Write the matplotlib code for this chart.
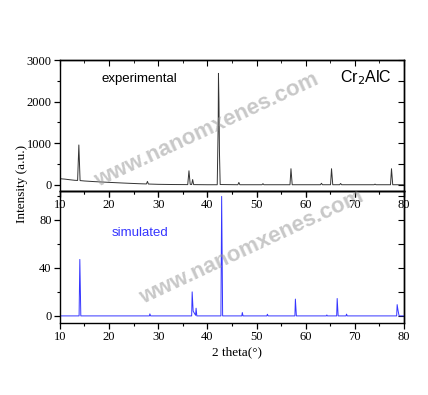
import matplotlib
matplotlib.use('Agg')
import matplotlib.pyplot as plt
from matplotlib.ticker import MultipleLocator

plt.rcParams['font.family'] = 'Liberation Serif'
plt.rcParams['axes.linewidth'] = 1.0

#################### DATA ##############################
# experimental pattern, vertices (2theta, counts)
exp_x = [10, 11, 12, 13, 13.6, 13.85, 14.1, 15, 17, 20, 23, 26, 27.6, 27.8, 28.0,
         30, 33, 36.0, 36.25, 36.5, 36.8, 37.0, 37.2, 40, 42.0, 42.2, 42.25, 42.35,
         42.45, 42.6, 46.2, 46.4, 46.6, 51.1, 51.3, 51.5, 56.8, 57.0, 57.25, 63.0,
         63.2, 63.4, 65.05, 65.25, 65.5, 66.9, 67.1, 67.3, 73.9, 74.1, 74.3, 77.25,
         77.45, 77.7, 80]
exp_y = [150, 140, 125, 112, 108, 960, 105, 95, 80, 62, 45, 30, 24, 85, 22,
         15, 10, 8, 340, 15, 10, 130, 8, 5, 5, 1500, 2680, 2000,
         800, 10, 5, 60, 5, 5, 30, 5, 5, 390, 5, 5,
         40, 5, 5, 390, 5, 5, 35, 5, 5, 20, 5, 5,
         390, 5, 5]

# simulated pattern
sim_x = [10, 13.9, 14.05, 14.25, 28.2, 28.3, 28.45, 36.8, 36.9, 37.1, 37.6, 37.7,
         37.85, 42.75, 42.9, 43.1, 47.0, 47.1, 47.25, 52.1, 52.2, 52.35, 57.8, 57.9,
         58.1, 64.2, 64.3, 64.4, 66.3, 66.4, 66.6, 68.2, 68.3, 68.45, 78.5, 78.6,
         78.8, 79.0, 80]
sim_y = [0, 0, 47, 0, 0, 1.7, 0, 0, 20, 4, 0.5, 6.4,
         0, 0, 99.5, 0, 0, 2.8, 0, 0, 1.4, 0, 0, 14,
         0, 0, 0.8, 0, 0, 14.5, 0, 0, 1.5, 0, 0, 9.4,
         4, 0, 0]

#################### PLOT ##############################
fig = plt.figure(figsize=(4.28, 3.95), dpi=100)
ax2 = fig.add_axes([0.140, 0.182, 0.804, 0.3345])
ax1 = fig.add_axes([0.140, 0.5165, 0.804, 0.3315])
ax2.patch.set_visible(False)
ax1.patch.set_visible(False)

ax1.plot(exp_x, exp_y, color='#333333', lw=0.7)
ax2.plot(sim_x, sim_y, color='#3535ff', lw=0.7)

ax1.set_ylim(-145, 3000)
ax2.set_ylim(-6, 104)
ax1.yaxis.set_major_locator(MultipleLocator(1000))
ax1.yaxis.set_minor_locator(MultipleLocator(500))
ax2.yaxis.set_major_locator(MultipleLocator(40))
ax2.yaxis.set_minor_locator(MultipleLocator(20))

for ax in (ax1, ax2):
    ax.set_xlim(10, 80)
    ax.xaxis.set_major_locator(MultipleLocator(10))
    ax.xaxis.set_minor_locator(MultipleLocator(5))
    ax.tick_params(which='major', direction='out', length=4, width=0.9, labelsize=9, pad=2)
    ax.tick_params(which='minor', direction='out', length=2.5, width=0.8)
    # inward ticks on top and right
    top = ax.secondary_xaxis('top')
    top.xaxis.set_major_locator(MultipleLocator(10))
    top.xaxis.set_minor_locator(MultipleLocator(5))
    top.tick_params(which='both', direction='in', labeltop=False)
    top.tick_params(which='major', length=4)
    top.tick_params(which='minor', length=2.5)
    right = ax.secondary_yaxis('right')
    right.yaxis.set_major_locator(ax.yaxis.get_minor_locator())
    right.tick_params(which='both', direction='in', labelright=False, length=4)

ax1.text(0.12, 0.83, 'experimental', transform=ax1.transAxes,
         family='Liberation Sans', fontsize=9.5)
ax1.text(0.815, 0.83, 'Cr$_2$AlC', transform=ax1.transAxes,
         family='Liberation Sans', fontsize=11.5)
ax2.text(0.15, 0.66, 'simulated', transform=ax2.transAxes,
         family='Liberation Sans', fontsize=9.5, color='#3535ff')

fig.text(0.051, 0.534, 'Intensity (a.u.)', rotation=90, ha='center', va='center', fontsize=9.5)
fig.text(0.553, 0.108, '2 theta(°)', ha='center', va='center', fontsize=9.5)

# watermark
for cx, cy in [(207, 130), (252, 247)]:
    fig.text(cx / 428, 1 - cy / 395, 'www.nanomxenes.com', rotation=25,
             ha='center', va='center', family='Liberation Sans', fontweight='bold',
             fontsize=16, color='#9a9a9a', alpha=0.55)

fig.savefig('out.png', dpi=100)
